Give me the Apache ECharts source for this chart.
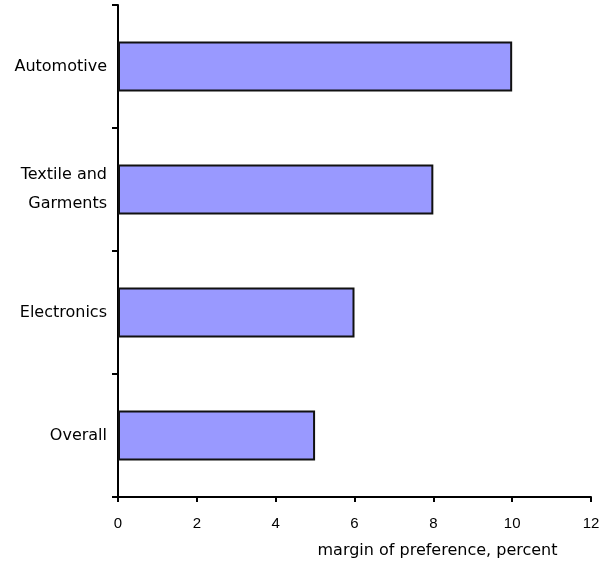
<!DOCTYPE html>
<html>
<head>
<meta charset="utf-8">
<script src="https://cdn.jsdelivr.net/npm/echarts@6/dist/echarts.min.js"></script>
<style>html,body{margin:0;padding:0;background:#fff}#c{width:602px;height:562px}</style>
</head>
<body>
<div id="c"></div>
<script>
const categories = ['Automotive', 'Textile and\nGarments', 'Electronics', 'Overall'];
const values = [10, 8, 6, 5];
const xTicks = [0, 2, 4, 6, 8, 10, 12];
const xAxisTitle = 'margin of preference, percent';

const chart = echarts.init(document.getElementById('c'), null, {renderer: 'canvas'});
chart.setOption({
  animation: false,
  backgroundColor: '#ffffff',
  grid: {left: 118, right: 11, top: 5, bottom: 65, containLabel: false, outerBoundsMode: 'none'},
  xAxis: {
    type: 'value',
    min: xTicks[0],
    max: xTicks[xTicks.length - 1],
    interval: 2,
    splitLine: {show: false},
    axisLine: {show: true, onZero: false, lineStyle: {color: '#000', width: 2}},
    axisTick: {show: true, length: 5, lineStyle: {color: '#000', width: 2}},
    axisLabel: {color: '#000', fontFamily: 'Liberation Sans', fontSize: 15, margin: 19},
    name: xAxisTitle,
    nameLocation: 'middle',
    nameGap: 46,
    nameTextStyle: {color: '#000', fontFamily: 'DejaVu Sans', fontSize: 16, padding: [0, 0, 0, 166]}
  },
  yAxis: {
    type: 'category',
    data: categories,
    inverse: true,
    axisLine: {show: true, lineStyle: {color: '#000', width: 2}},
    axisTick: {show: true, length: 6, lineStyle: {color: '#000', width: 2}},
    axisLabel: {color: '#000', fontFamily: 'DejaVu Sans', fontSize: 16, margin: 11, lineHeight: 29, align: 'right'}
  },
  series: [{
    type: 'bar',
    data: values,
    barWidth: 50,
    itemStyle: {color: '#9999ff', borderColor: '#111', borderWidth: 2}
  }]
});
</script>
</body>
</html>
